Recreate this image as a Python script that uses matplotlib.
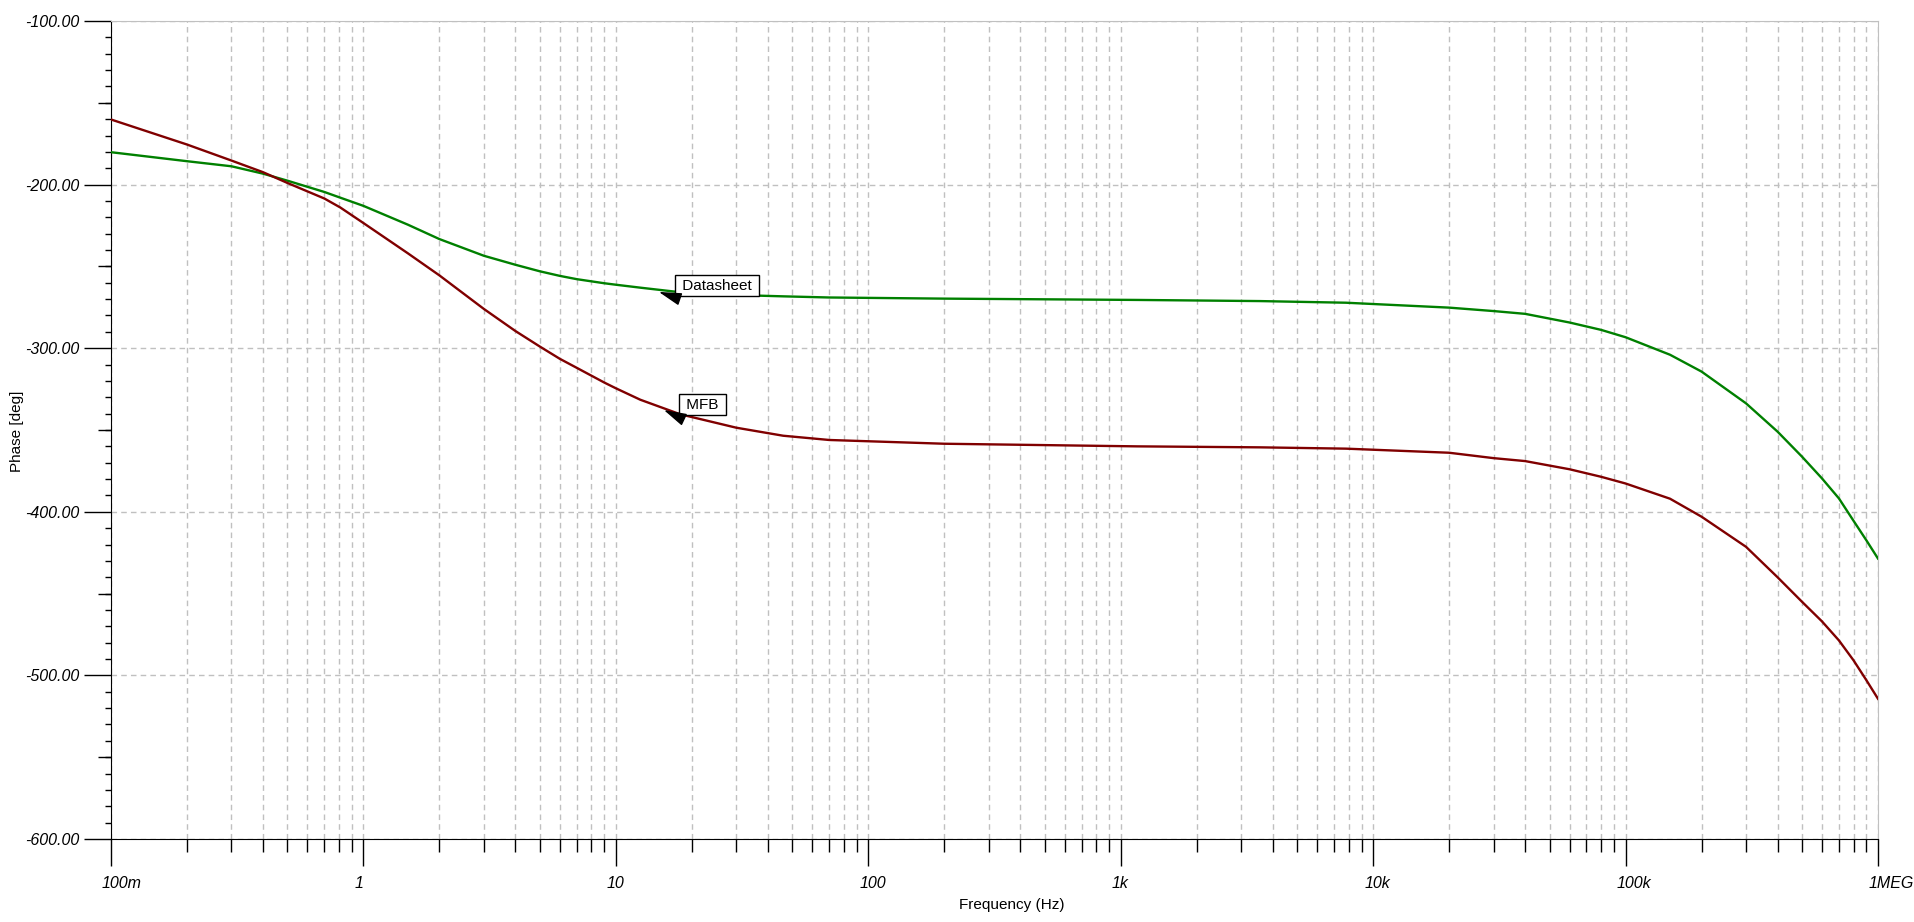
import numpy as np
import matplotlib
matplotlib.use("Agg")
import matplotlib.pyplot as plt
import matplotlib.transforms as mtransforms
from matplotlib.ticker import LogLocator, MultipleLocator, NullFormatter, FixedLocator

# frequency points (Hz)
freq = [0.1, 0.2, 0.3, 0.4, 0.5, 0.7, 0.81, 1, 1.5, 2, 3, 4, 5, 6, 7, 9, 10, 12.5,
        18, 30, 46, 70, 200, 1160, 3560, 7800, 20000, 30000, 40000, 60000,
        80000, 100000, 150000, 200000, 300000, 400000, 500000, 600000,
        700000, 800000, 900000, 1000000]

datasheet = [-180.2, -185.7, -188.8, -193.3, -197.6, -204.5, -208.0, -213.0, -224.5,
             -233.3, -243.5, -249.0, -253.0, -255.8, -257.8, -260.3, -261.2, -263.0,
             -265.8, -267.5, -268.3, -269.0, -269.7, -270.5, -271.2, -272.2, -275.2,
             -277.3, -279.0, -284.3, -288.8, -293.3, -304.0, -314.3, -333.7, -351.0,
             -366.3, -379.6, -391.8, -405.5, -417.5, -428.6]

mfb = [-160.2, -175.5, -185.3, -192.4, -199.0, -208.5, -214.0, -223.5, -242.0,
       -255.5, -276.0, -289.5, -299.0, -306.5, -312.0, -321.0, -324.5, -331.5,
       -340.4, -348.6, -353.5, -356.1, -358.4, -360.0, -360.6, -361.4, -363.9,
       -367.2, -369.0, -374.0, -378.6, -382.7, -392.0, -403.0, -421.4, -440.0,
       -455.0, -467.0, -478.6, -490.8, -503.0, -514.3]

xtick_pos = [0.1, 1, 10, 100, 1e3, 1e4, 1e5, 1e6]
xtick_labels = ["100m", "1", "10", "100", "1k", "10k", "100k", "1MEG"]

# curve labels: (text, arrow tip, arrow tail, text lower-left)
labels = [
    ("Datasheet", (14.8, -265.6), (17.64, -269.6), (17.64, -266.0)),
    ("MFB", (15.5, -337.8), (18.1, -342.7), (18.3, -338.9)),
]

font = "Liberation Sans"
grid_col = "#c0c0c0"

fig = plt.figure(figsize=(19.15, 9.22), dpi=100)
ax = fig.add_axes([111 / 1915, 83 / 922, 1767 / 1915, 818 / 922])

ax.semilogx(freq, datasheet, color="#008000", lw=1.7, zorder=3)
ax.semilogx(freq, mfb, color="#800000", lw=1.7, zorder=3)

ax.set_xlim(0.1, 1e6)
ax.set_ylim(-600, -100)

# x axis ticks
ax.xaxis.set_major_locator(FixedLocator(xtick_pos))
ax.xaxis.set_minor_locator(LogLocator(base=10, subs=np.arange(2, 10), numticks=20))
ax.xaxis.set_minor_formatter(NullFormatter())
ax.set_xticklabels([])
ax.tick_params(axis="x", which="major", length=19.4, width=1.0, direction="out")
ax.tick_params(axis="x", which="minor", length=9.4, width=1.0, direction="out")

off = mtransforms.ScaledTranslation(-9 / 100, -37 / 100, fig.dpi_scale_trans)
trans = mtransforms.blended_transform_factory(ax.transData, ax.transAxes) + off
for xp, lab in zip(xtick_pos, xtick_labels):
    ax.text(xp, 0, lab, transform=trans, ha="left", va="top",
            fontsize=11.5, fontstyle="italic", family=font)

# y axis ticks
ax.yaxis.set_major_locator(MultipleLocator(100))
ax.yaxis.set_minor_locator(MultipleLocator(10))
ax.yaxis.set_major_formatter(plt.FormatStrFormatter("%.2f"))
ax.tick_params(axis="y", which="major", length=19.4, width=1.0, pad=3.6, labelsize=11.5)
ax.tick_params(axis="y", which="minor", length=4.3, width=1.0)
for t in ax.get_yticklabels():
    t.set_fontstyle("italic")
    t.set_family(font)

sec = ax.secondary_yaxis("left")
sec.set_yticks(np.arange(-550, -100, 100))
sec.set_yticklabels([])
sec.tick_params(axis="y", length=9.4, width=1.0)
sec.spines["left"].set_visible(False)

# grid
dash = (0, (4, 3))
ax.grid(True, which="both", axis="x", color=grid_col, lw=1.0, linestyle=dash, zorder=0)
ax.grid(True, which="major", axis="y", color=grid_col, lw=1.0, linestyle=dash, zorder=0)
ax.set_axisbelow(True)

ax.spines["top"].set_color(grid_col)
ax.spines["right"].set_color(grid_col)
ax.spines["left"].set_color("black")
ax.spines["bottom"].set_color("black")

# axis labels
fig.text(1012 / 1915, 1 - 905 / 922, "Frequency (Hz)", ha="center", va="center",
         fontsize=11, family=font)
fig.text(17 / 1915, 1 - 431 / 922, "Phase [deg]", ha="center", va="center",
         rotation=90, fontsize=11, family=font)

# curve labels with arrows
for name, tip, tail, pos in labels:
    ax.text(pos[0], pos[1], " " + name + " ", ha="left", va="bottom", fontsize=11,
            family=font, zorder=5,
            bbox=dict(boxstyle="square,pad=0.22", facecolor="white",
                      edgecolor="black", lw=1.0))
    ax.annotate("", xy=tip, xytext=tail,
                arrowprops=dict(arrowstyle="-|>,head_length=1.0,head_width=0.28",
                                color="black", mutation_scale=14,
                                shrinkA=0, shrinkB=0, lw=1.0), zorder=6)

fig.savefig("out.png", dpi=100)
